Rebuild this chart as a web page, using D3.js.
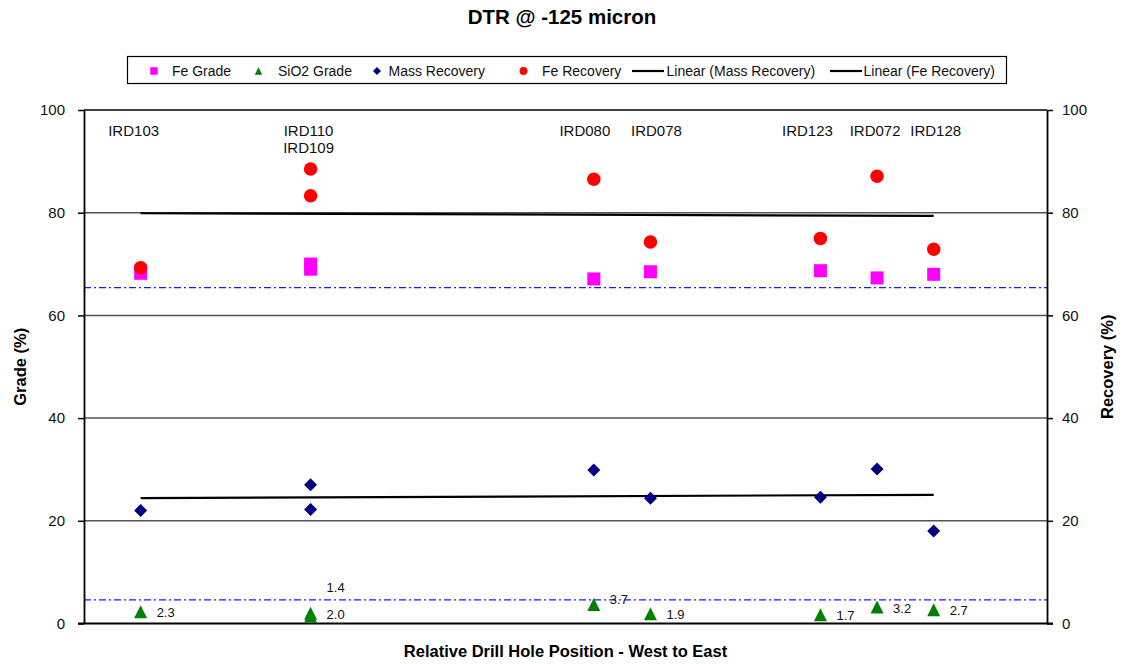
<!DOCTYPE html>
<html>
<head>
<meta charset="utf-8">
<script src="https://cdn.jsdelivr.net/npm/d3@7/dist/d3.min.js"></script>
<style>
  html, body { margin: 0; padding: 0; background: #fff; }
  svg { display: block; font-family: Arial, "Liberation Sans", sans-serif; }
</style>
</head>
<body>
<svg id="chart" width="1124" height="664"></svg>
<script>
// Drill holes, ordered west to east by relative position
const holeIds   = ["IRD103", "IRD110", "IRD109", "IRD080", "IRD078", "IRD123", "IRD072", "IRD128"];
const holePos   = [1, 4, 4, 9, 10, 13, 14, 15];

// Grade series (%), left axis
const feGrade   = [68.2, 70.0, 69.0, 67.1, 68.5, 68.7, 67.3, 68.0];
const sio2Grade = [2.3, 1.4, 2.0, 3.7, 1.9, 1.7, 3.2, 2.7];

// Recovery series (%), right axis
const massRecovery = [22.0, 27.0, 22.2, 29.9, 24.4, 24.6, 30.1, 18.0];
const feRecovery   = [69.3, 88.5, 83.3, 86.5, 74.3, 75.0, 87.1, 72.9];

// Reference grade levels (dash-dot guides)
const gradeGuides = [65.4, 4.6];

// Axis ticks
const axisTicks = [0, 20, 40, 60, 80, 100];

// Layout
const plot = { left: 84, right: 1047, top: 110, bottom: 623.5 };

const svg = d3.select("#chart");

const x  = d3.scaleLinear().domain([0, 17]).range([plot.left, plot.right]);
const yG = d3.scaleLinear().domain([0, 100]).range([plot.bottom, plot.top]);
const yR = d3.scaleLinear().domain([0, 100]).range([plot.bottom, plot.top]);

// Marker shapes drawn around their bounding-box centre (w = full width)
const shapes = {
  square:   w => { const h = w / 2; return `M${-h},${-h}H${h}V${h}H${-h}Z`; },
  triangle: w => { const h = w / 2; return `M0,${-h}L${h},${h}L${-h},${h}Z`; },
  diamond:  w => { const h = w / 2; return `M0,${-h}L${h},0L0,${h}L${-h},0Z`; },
  circle:   w => { const r = w / 2; return `M${r},0A${r},${r},0,1,1,${-r},0A${r},${r},0,1,1,${r},0Z`; }
};

// Gridlines
svg.append("g")
  .selectAll("line")
  .data(axisTicks.filter(t => t > 0 && t < 100))
  .join("line")
  .attr("x1", plot.left).attr("x2", plot.right)
  .attr("y1", d => yG(d)).attr("y2", d => yG(d))
  .attr("stroke", "#555").attr("stroke-width", 1.5);

// Plot frame top
svg.append("line")
  .attr("x1", plot.left).attr("x2", plot.right)
  .attr("y1", yG(100)).attr("y2", yG(100))
  .attr("stroke", "#000").attr("stroke-width", 1.6);

// Reference guides
svg.append("g")
  .selectAll("line")
  .data(gradeGuides)
  .join("line")
  .attr("x1", plot.left).attr("x2", plot.right)
  .attr("y1", d => yG(d)).attr("y2", d => yG(d))
  .attr("stroke", "#1a1aff").attr("stroke-width", 1.2)
  .attr("stroke-dasharray", "7,3,2,3");

// Axes
const leftAxis = d3.axisLeft(yG).tickValues(axisTicks).tickSize(6).tickPadding(13).tickFormat(d3.format("d"));
const rightAxis = d3.axisRight(yR).tickValues(axisTicks).tickSize(6).tickPadding(9).tickFormat(d3.format("d"));

function styleAxis(g) {
  g.select(".domain").attr("stroke", "#000").attr("stroke-width", 1.8);
  g.selectAll(".tick line").attr("stroke", "#000").attr("stroke-width", 1.5);
  g.selectAll(".tick text")
    .attr("font-size", 15).attr("fill", "#111")
    .attr("font-family", "Arial, 'Liberation Sans', sans-serif");
}

svg.append("g")
  .attr("transform", `translate(${plot.left},0)`)
  .call(leftAxis.tickSizeOuter(0))
  .call(styleAxis);

svg.append("g")
  .attr("transform", `translate(${plot.right},0)`)
  .call(rightAxis.tickSizeOuter(0))
  .call(styleAxis);

// Bottom axis line
svg.append("line")
  .attr("x1", plot.left - 6).attr("x2", plot.right + 6)
  .attr("y1", plot.bottom).attr("y2", plot.bottom)
  .attr("stroke", "#000").attr("stroke-width", 1.8);

// Linear trendlines (least squares)
function linearFit(xs, ys) {
  const n = xs.length;
  const mx = d3.mean(xs), my = d3.mean(ys);
  let sxy = 0, sxx = 0;
  for (let i = 0; i < n; i++) {
    sxy += (xs[i] - mx) * (ys[i] - my);
    sxx += (xs[i] - mx) * (xs[i] - mx);
  }
  const b = sxy / sxx;
  const a = my - b * mx;
  return v => a + b * v;
}
const xExtent = d3.extent(holePos);
[massRecovery, feRecovery].forEach(series => {
  const f = linearFit(holePos, series);
  svg.append("line")
    .attr("x1", x(xExtent[0])).attr("x2", x(xExtent[1]))
    .attr("y1", yR(f(xExtent[0]))).attr("y2", yR(f(xExtent[1])))
    .attr("stroke", "#000").attr("stroke-width", 2.2);
});

// Markers
const pts = holePos.map((p, i) => ({ p, i }));
const markers = [
  { vals: feGrade,      scale: yG, shape: "square",   w: 13,   color: "#ff00ff" },
  { vals: sio2Grade,    scale: yG, shape: "triangle", w: 13,   color: "#008000" },
  { vals: massRecovery, scale: yR, shape: "diamond",  w: 13,   color: "#000080" },
  { vals: feRecovery,   scale: yR, shape: "circle",   w: 13.5, color: "#ff0000" }
];
markers.forEach(m => {
  svg.append("g")
    .selectAll("path")
    .data(pts)
    .join("path")
    .attr("d", shapes[m.shape](m.w))
    .attr("transform", d => `translate(${x(d.p)},${m.scale(m.vals[d.i])})`)
    .attr("fill", m.color);
});

// SiO2 value labels
const sio2LabelDy = [1, -29, 1, -5, 1, 1, 1, 1];
svg.append("g")
  .selectAll("text")
  .data(pts)
  .join("text")
  .attr("x", d => x(d.p) + 16)
  .attr("y", d => yG(sio2Grade[d.i]) + sio2LabelDy[d.i])
  .attr("dy", "0.35em")
  .attr("font-size", 13)
  .attr("fill", "#111")
  .text(d => d3.format(".1f")(sio2Grade[d.i]));

// Drill hole names
const holeLabelDx   = [-7, -2, -2, -9, 6, -13, -2, 2];
const holeLabelLine = [0, 0, 1, 0, 0, 0, 0, 0];
svg.append("g")
  .selectAll("text")
  .data(pts)
  .join("text")
  .attr("x", d => x(d.p) + holeLabelDx[d.i])
  .attr("y", d => yG(96) + holeLabelLine[d.i] * 17.5)
  .attr("dy", "0.35em")
  .attr("text-anchor", "middle")
  .attr("font-size", 15)
  .attr("fill", "#111")
  .text(d => holeIds[d.i]);

// Title
svg.append("text")
  .attr("x", 562).attr("y", 17)
  .attr("dy", "0.35em")
  .attr("text-anchor", "middle")
  .attr("font-size", 20.5).attr("font-weight", "bold")
  .text("DTR @ -125 micron");

// Axis titles
svg.append("text")
  .attr("transform", `translate(20,${(plot.top + plot.bottom) / 2}) rotate(-90)`)
  .attr("dy", "0.35em")
  .attr("text-anchor", "middle")
  .attr("font-size", 16.5).attr("font-weight", "bold")
  .text("Grade (%)");

svg.append("text")
  .attr("transform", `translate(1107,${(plot.top + plot.bottom) / 2}) rotate(-90)`)
  .attr("dy", "0.35em")
  .attr("text-anchor", "middle")
  .attr("font-size", 16.5).attr("font-weight", "bold")
  .text("Recovery (%)");

svg.append("text")
  .attr("x", (plot.left + plot.right) / 2).attr("y", 651)
  .attr("dy", "0.35em")
  .attr("text-anchor", "middle")
  .attr("font-size", 16.5).attr("font-weight", "bold")
  .text("Relative Drill Hole Position - West to East");

// Legend
const legendItems = [
  { label: "Fe Grade",               kind: "symbol", shape: "square",   w: 7.5, color: "#ff00ff", mx: 154,   tx: 172 },
  { label: "SiO2 Grade",             kind: "symbol", shape: "triangle", w: 7.5, color: "#008000", mx: 258.5, tx: 278 },
  { label: "Mass Recovery",          kind: "symbol", shape: "diamond",  w: 8,   color: "#000080", mx: 377,   tx: 388.5 },
  { label: "Fe Recovery",            kind: "symbol", shape: "circle",   w: 8,   color: "#ff0000", mx: 523.5, tx: 542 },
  { label: "Linear (Mass Recovery)", kind: "line",   color: "#000", mx: 648, tx: 666.5 },
  { label: "Linear (Fe Recovery)",   kind: "line",   color: "#000", mx: 846, tx: 863.5 }
];
const legend = svg.append("g");
legend.append("rect")
  .attr("x", 127.5).attr("y", 56.5)
  .attr("width", 879).attr("height", 27)
  .attr("fill", "#fff").attr("stroke", "#000").attr("stroke-width", 1.2);
const legendY = 71;
legendItems.forEach(it => {
  if (it.kind === "symbol") {
    legend.append("path")
      .attr("d", shapes[it.shape](it.w))
      .attr("transform", `translate(${it.mx},${legendY})`)
      .attr("fill", it.color);
  } else {
    legend.append("line")
      .attr("x1", it.mx - 16).attr("x2", it.mx + 16)
      .attr("y1", legendY).attr("y2", legendY)
      .attr("stroke", it.color).attr("stroke-width", 2.2);
  }
  legend.append("text")
    .attr("x", it.tx).attr("y", legendY)
    .attr("dy", "0.35em")
    .attr("font-size", 14)
    .attr("fill", "#111")
    .text(it.label);
});
</script>
</body>
</html>
